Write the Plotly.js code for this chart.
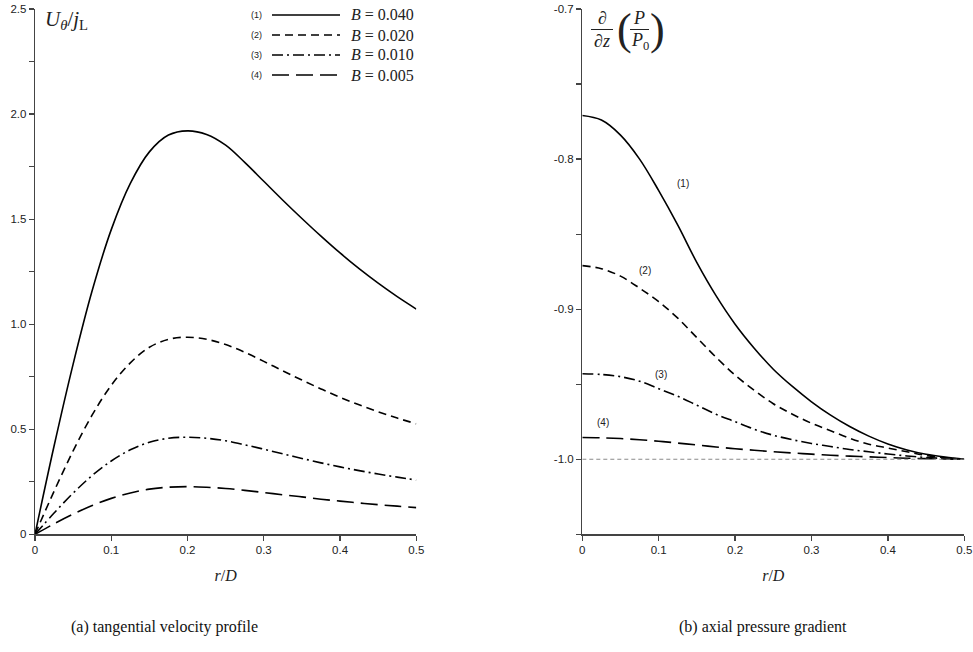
<!DOCTYPE html>
<html>
<head>
<meta charset="utf-8">
<script src="https://cdn.plot.ly/plotly-3.0.1.min.js"></script>
<style>html,body{margin:0;padding:0;background:#fff;}#chart{width:973px;height:652px;}</style>
</head>
<body>
<div id="chart"></div>
<script>
// ---- data ----
const rD = [0, 0.025, 0.05, 0.075, 0.1, 0.125, 0.15, 0.175, 0.2, 0.225, 0.25, 0.275, 0.3, 0.325, 0.35, 0.375, 0.4, 0.425, 0.45, 0.475, 0.5];
const seriesIds = ["(1)", "(2)", "(3)", "(4)"];
const bValues = ["0.040", "0.020", "0.010", "0.005"];
const U1 = [0, 0.42, 0.81, 1.16, 1.45, 1.67, 1.82, 1.90, 1.92, 1.903, 1.852, 1.770, 1.680, 1.590, 1.503, 1.419, 1.339, 1.264, 1.195, 1.131, 1.072];
const U2 = [0, 0.205, 0.397, 0.568, 0.709, 0.816, 0.890, 0.928, 0.938, 0.928, 0.903, 0.866, 0.823, 0.778, 0.734, 0.692, 0.652, 0.616, 0.583, 0.553, 0.526];
const U3 = [0, 0.101, 0.196, 0.280, 0.349, 0.402, 0.438, 0.457, 0.462, 0.457, 0.445, 0.426, 0.405, 0.383, 0.361, 0.340, 0.321, 0.303, 0.287, 0.272, 0.258];
const U4 = [0, 0.050, 0.096, 0.137, 0.171, 0.197, 0.215, 0.224, 0.227, 0.224, 0.218, 0.209, 0.199, 0.188, 0.178, 0.167, 0.158, 0.149, 0.141, 0.134, 0.127];
const P1 = [-0.771, -0.774, -0.784, -0.800, -0.821, -0.844, -0.869, -0.891, -0.910, -0.926, -0.940, -0.9515, -0.9617, -0.9706, -0.9782, -0.9846, -0.9898, -0.9938, -0.9967, -0.9986, -1.000];
const P2 = [-0.871, -0.873, -0.878, -0.886, -0.895, -0.906, -0.919, -0.932, -0.944, -0.954, -0.963, -0.970, -0.976, -0.981, -0.986, -0.990, -0.9925, -0.995, -0.9975, -0.999, -1.000];
const P3 = [-0.943, -0.9435, -0.945, -0.948, -0.953, -0.958, -0.964, -0.970, -0.975, -0.980, -0.984, -0.987, -0.9895, -0.9915, -0.9935, -0.995, -0.9965, -0.9978, -0.9988, -0.9995, -1.000];
const P4 = [-0.9855, -0.9857, -0.9862, -0.987, -0.988, -0.9892, -0.9905, -0.9918, -0.993, -0.994, -0.995, -0.9958, -0.9966, -0.9973, -0.9979, -0.9984, -0.9989, -0.9993, -0.9996, -0.9998, -1.000];
const refLevel = -1.0;
const xTicks = [0, 0.1, 0.2, 0.3, 0.4, 0.5];
const xTickText = ["0", "0.1", "0.2", "0.3", "0.4", "0.5"];
const yTicksA = [0, 0.25, 0.5, 0.75, 1.0, 1.25, 1.5, 1.75, 2.0, 2.25, 2.5];
const yTickTextA = ["0", "", "0.5", "", "1.0", "", "1.5", "", "2.0", "", "2.5"];
const yTicksB = [-1.05, -1.0, -0.95, -0.9, -0.85, -0.8, -0.75, -0.7];
const yTickTextB = ["", "-1.0", "", "-0.9", "", "-0.8", "", "-0.7"];
const captions = ["(a) tangential velocity profile", "(b) axial pressure gradient"];

// ---- styling ----
const W = 973, H = 652;
const X = p => p / W, Y = p => 1 - p / H;
const dashes = ["solid", "8px,5px", "11px,4px,2px,4px", "17px,7px"];
const lw = 1.6;
const Uall = [U1, U2, U3, U4];
const Pall = [P1, P2, P3, P4];

const traces = [];
Uall.forEach((u, i) => traces.push({x: rD, y: u, xaxis: "x", yaxis: "y", mode: "lines",
  line: {color: "#000", width: lw, dash: dashes[i], shape: "spline", smoothing: 1}, showlegend: false, hoverinfo: "skip"}));
Pall.forEach((p, i) => traces.push({x: rD, y: p, xaxis: "x2", yaxis: "y2", mode: "lines",
  line: {color: "#000", width: lw, dash: dashes[i], shape: "spline", smoothing: 1}, showlegend: false, hoverinfo: "skip"}));
traces.push({x: [rD[0], rD[rD.length - 1]], y: [refLevel, refLevel], xaxis: "x2", yaxis: "y2", mode: "lines",
  line: {color: "#8a8a8a", width: 1.2, dash: "4px,3px"}, showlegend: false, hoverinfo: "skip"});

const tickFont = {family: "Liberation Sans, Arial, sans-serif", size: 11.5, color: "#222"};
const axBase = {showgrid: false, zeroline: false, showline: true, linecolor: "#444", linewidth: 1.3,
  ticks: "outside", ticklen: 5, tickcolor: "#444", tickwidth: 1.2, tickfont: tickFont, fixedrange: true};
const serif = "Liberation Serif, DejaVu Serif, serif";
const xTitle = {text: "<i>r</i>/<i>D</i>", font: {family: serif, size: 16, color: "#222"}, standoff: 14};

const xDomA = [35 / W, 416.3 / W], xDomB = [582.3 / W, 964.3 / W];
const yDom = [1 - 534.3 / H, 1 - 9 / H];
const layout = {
  width: W, height: H, margin: {l: 0, r: 0, t: 0, b: 0}, paper_bgcolor: "#fff", plot_bgcolor: "#fff",
  showlegend: false,
  xaxis: Object.assign({}, axBase, {domain: xDomA, range: [0, 0.5], tickvals: xTicks, ticktext: xTickText, anchor: "y", title: xTitle}),
  yaxis: Object.assign({}, axBase, {domain: yDom, range: [0, 2.5], tickvals: yTicksA, ticktext: yTickTextA, anchor: "x"}),
  xaxis2: Object.assign({}, axBase, {domain: xDomB, range: [0, 0.5], tickvals: xTicks, ticktext: xTickText, anchor: "y2", title: xTitle}),
  yaxis2: Object.assign({}, axBase, {domain: yDom, range: [-1.05, -0.7], tickvals: yTicksB, ticktext: yTickTextB, anchor: "x2"}),
  shapes: [],
  annotations: []
};

const ann = (px, py, text, opts) => Object.assign({xref: "paper", yref: "paper", x: X(px), y: Y(py), text: text,
  showarrow: false, xanchor: "center", yanchor: "middle"}, opts || {});

// left y title
layout.annotations.push(ann(43, 20, "<i>U</i><sub><i>θ</i></sub>/<i>j</i><sub>L</sub>",
  {xanchor: "left", font: {family: serif, size: 21, color: "#222"}}));

// legend
const legRows = [15, 35, 55, 75];
seriesIds.forEach((id, i) => {
  const yy = legRows[i];
  layout.annotations.push(ann(256, yy, id, {font: {family: "Liberation Sans, sans-serif", size: 9, color: "#222"}}));
  layout.shapes.push({type: "line", xref: "paper", yref: "paper", x0: X(272), x1: X(340), y0: Y(yy), y1: Y(yy),
    line: {color: "#000", width: lw, dash: dashes[i]}});
  layout.annotations.push(ann(349, yy, "<i>B</i> = " + bValues[i], {xanchor: "left", font: {family: serif, size: 16, color: "#222"}}));
});

// right y title: d/dz (P/P0)
const tf = {family: serif, size: 18, color: "#222"};
layout.annotations.push(ann(602, 18, "∂", {font: tf}));
layout.annotations.push(ann(602, 41, "∂<i>z</i>", {font: tf}));
layout.shapes.push({type: "line", xref: "paper", yref: "paper", x0: X(591), x1: X(613), y0: Y(29.5), y1: Y(29.5), line: {color: "#222", width: 1}});
layout.annotations.push(ann(624, 30, "(", {font: {family: serif, size: 44, color: "#222"}}));
layout.annotations.push(ann(639, 18, "<i>P</i>", {font: tf}));
layout.annotations.push(ann(640, 42, "<i>P</i><sub>0</sub>", {font: tf}));
layout.annotations.push(ann(657, 30, ")", {font: {family: serif, size: 44, color: "#222"}}));
layout.shapes.push({type: "line", xref: "paper", yref: "paper", x0: X(630), x1: X(649), y0: Y(29.5), y1: Y(29.5), line: {color: "#222", width: 1}});

// curve labels on right panel
const lblPos = [[683, 184], [645, 270], [661, 374], [603, 422]];
seriesIds.forEach((id, i) => layout.annotations.push(ann(lblPos[i][0], lblPos[i][1], id,
  {font: {family: "Liberation Sans, sans-serif", size: 10, color: "#222"}})));

// captions
layout.annotations.push(ann(164, 627, captions[0], {font: {family: serif, size: 16, color: "#111"}}));
layout.annotations.push(ann(763, 627, captions[1], {font: {family: serif, size: 16, color: "#111"}}));

Plotly.newPlot("chart", traces, layout, {displayModeBar: false, staticPlot: true});
</script>
</body>
</html>
